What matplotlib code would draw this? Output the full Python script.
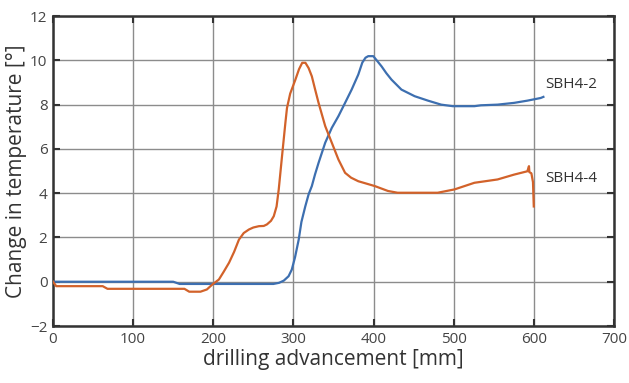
import matplotlib
matplotlib.use("Agg")
import matplotlib.pyplot as plt

plt.rcParams['font.family'] = ['Open Sans', 'DejaVu Sans']

# SBH4-2 temperature change along the drilling path
sbh42_x = [0, 150, 158, 275, 282, 288, 294, 298, 302, 306.6, 310, 314.8, 319, 323, 327,
           331.4, 339.7, 347.9, 356.2, 364.5, 372.7, 381, 386, 390, 393.4, 399.7, 404, 410,
           416, 422.4, 434.8, 451.4, 468, 484.4, 499, 525.9, 534, 554.8, 575.5, 592,
           608.6, 612]
sbh42_y = [0, 0, -0.1, -0.1, -0.05, 0.05, 0.25, 0.55, 1.1, 1.9, 2.7, 3.4, 3.95, 4.32, 4.85,
           5.37, 6.28, 6.95, 7.48, 8.08, 8.68, 9.36, 9.9, 10.12, 10.19, 10.19, 10.0, 9.73,
           9.42, 9.13, 8.68, 8.38, 8.18, 8.0, 7.93, 7.93, 7.97, 8.0, 8.08, 8.18,
           8.3, 8.35]

# SBH4-4 temperature change along the drilling path
sbh44_x = [0, 4, 62, 68, 164, 170, 184, 192, 199, 207, 213, 219.7, 226, 232, 238, 244.5,
           250, 257, 263, 267, 272, 275.5, 279, 281.7, 285.8, 290, 292, 296, 302.5, 307,
           311, 315, 319, 323, 327, 331.4, 339.7, 347.9, 356.2, 364.5, 372, 381, 401.7,
           418, 430, 451, 480, 501, 525.9, 554.8, 575.5, 592, 594, 594.5, 597, 599, 600]
sbh44_y = [0, -0.2, -0.2, -0.32, -0.32, -0.45, -0.45, -0.35, -0.12, 0.1, 0.45, 0.86, 1.35,
           1.9, 2.2, 2.36, 2.45, 2.51, 2.52, 2.59, 2.75, 2.96, 3.4, 4.17, 5.67, 7.18, 7.85,
           8.5, 9.13, 9.6, 9.89, 9.89, 9.65, 9.28, 8.7, 8.08, 7.03, 6.28, 5.52, 4.92, 4.7,
           4.54, 4.32, 4.1, 4.02, 4.02, 4.02, 4.17, 4.47, 4.62, 4.84, 4.99, 5.22, 4.95,
           4.9, 4.5, 3.4]

series_labels = ["SBH4-2", "SBH4-4"]
label_pos = [(614, 8.9), (614, 4.66)]

x_ticks = [0, 100, 200, 300, 400, 500, 600, 700]
y_ticks = [-2, 0, 2, 4, 6, 8, 10, 12]

BLUE = "#3d6fb0"
ORANGE = "#d2622a"

fig = plt.figure(figsize=(6.29, 3.83), dpi=100)
ax = fig.add_axes([0.0843, 0.1488, 0.8917, 0.8092])

ax.plot(sbh42_x, sbh42_y, color=BLUE, lw=1.6, zorder=3)
ax.plot(sbh44_x, sbh44_y, color=ORANGE, lw=1.6, zorder=3)

for text, (tx, ty) in zip(series_labels, label_pos):
    ax.text(tx, ty, text, fontsize=11, color="#333333", va="center", ha="left")

ax.set_xlim(0, 700)
ax.set_ylim(-2, 12)
ax.set_xticks(x_ticks)
ax.set_yticks(y_ticks)
ax.grid(True, color="#8c8c8c", lw=1.0)
ax.set_axisbelow(True)

for sp in ax.spines.values():
    sp.set_color("#333333")
    sp.set_linewidth(1.8)

ax.tick_params(direction="in", top=True, right=True, length=5, width=1.5,
               color="#333333", labelsize=11, labelcolor="#444444", pad=4)

ax.set_xlabel("drilling advancement [mm]", fontsize=15, color="#333333", labelpad=2)
ax.set_ylabel("Change in temperature [°]", fontsize=15, color="#333333", labelpad=2)

fig.savefig("out.png", dpi=100, facecolor="white")
